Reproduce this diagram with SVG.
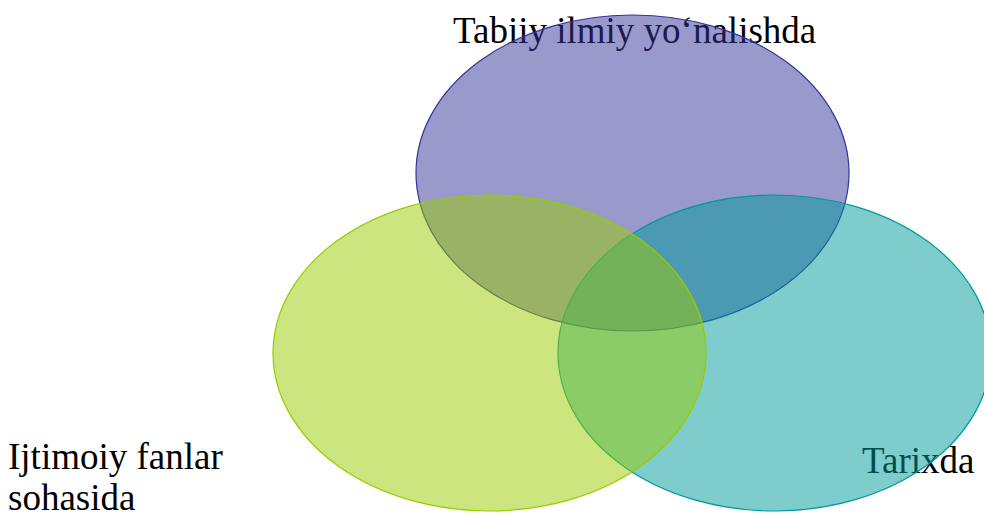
<svg xmlns="http://www.w3.org/2000/svg" width="984" height="518" viewBox="0 0 984 518">
<style>
.lbl{font-family:"Liberation Serif","Times New Roman",serif;font-size:37px;fill:#000}
.e{stroke-width:1.2;fill-opacity:0.5}
</style>
<rect width="984" height="518" fill="#fff"/>
<g id="connectors"/>
<g id="node-tabiiy">
<text class="lbl" x="453" y="43">Tabiiy ilmiy yo‘nalishda</text>
<ellipse class="e" cx="632.5" cy="173" rx="216.5" ry="158" fill="#333399" stroke="#333399"/>
</g>
<g id="node-tarix">
<text class="lbl" x="862" y="473">Tarixda</text>
<ellipse class="e" cx="774.5" cy="353" rx="216.5" ry="158" fill="#009999" stroke="#009999"/>
</g>
<g id="node-ijtimoiy">
<text class="lbl" x="8" y="469">Ijtimoiy fanlar</text>
<text class="lbl" x="8" y="510">sohasida</text>
<ellipse class="e" cx="489.5" cy="353" rx="216.5" ry="158" fill="#99cc00" stroke="#99cc00"/>
</g>
</svg>
